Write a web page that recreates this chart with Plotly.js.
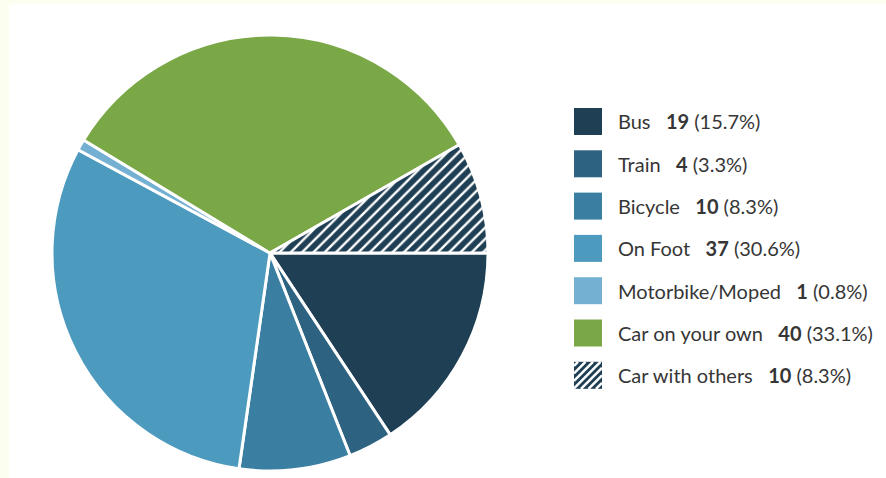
<!DOCTYPE html>
<html>
<head>
<meta charset="utf-8">
<script src="https://cdn.plot.ly/plotly-3.0.1.min.js"></script>
<style>
  html, body { margin: 0; padding: 0; background: #fcfff0; }
  #bg { position: absolute; left: 9px; top: 4px; width: 877px; height: 474px; background: #ffffff; }
  #chart { position: absolute; left: 0; top: 0; width: 886px; height: 478px; }
</style>
</head>
<body>
<div id="bg"></div>
<div id="chart"></div>
<script>
const categories = ["Bus", "Train", "Bicycle", "On Foot", "Motorbike/Moped", "Car on your own", "Car with others"];
const counts = [19, 4, 10, 37, 1, 40, 10];
const percents = ["15.7%", "3.3%", "8.3%", "30.6%", "0.8%", "33.1%", "8.3%"];
const colors = ["#1f3f55", "#2d6280", "#3a7fa1", "#4d9abf", "#74b0d2", "#7aa847", "#1f3f55"];
const patterns = ["", "", "", "", "", "", "/"];

const W = 886, H = 478;
const px = x => x / W;
const py = y => 1 - y / H;

const trace = {
  type: "pie",
  labels: categories,
  values: counts,
  sort: false,
  direction: "clockwise",
  rotation: 90,
  textinfo: "none",
  hoverinfo: "none",
  showlegend: false,
  marker: {
    colors: colors,
    line: { color: "#ffffff", width: 3 },
    pattern: { shape: patterns, bgcolor: colors, fgcolor: "#ffffff", fillmode: "replace", size: 8, solidity: 0.3 }
  },
  domain: { x: [px(52), px(488)], y: [py(471), py(35)] }
};

const shapes = [];
const annotations = [];
const sqX0 = 574, sqX1 = 602, sqH = 27;
const row0 = 121.5, rowStep = 42.3;
categories.forEach((c, i) => {
  const yc = row0 + i * rowStep;
  const y0 = yc - sqH / 2, y1 = yc + sqH / 2;
  shapes.push({
    type: "rect", xref: "paper", yref: "paper",
    x0: px(sqX0), x1: px(sqX1), y0: py(y1), y1: py(y0),
    fillcolor: colors[i], line: { width: 0 }
  });
  if (patterns[i] === "/") {
    const s = 7.5;
    for (let cc = sqX0 + y0 + 4; cc < sqX1 + y1; cc += s) {
      const xa = Math.max(sqX0, cc - y1), xb = Math.min(sqX1, cc - y0);
      if (xb - xa < 1) continue;
      shapes.push({
        type: "line", xref: "paper", yref: "paper",
        x0: px(xa), y0: py(cc - xa), x1: px(xb), y1: py(cc - xb),
        line: { color: "#ffffff", width: 2.4 }
      });
    }
  }
  annotations.push({
    xref: "paper", yref: "paper", x: px(616), y: py(yc),
    xanchor: "left", yanchor: "middle", showarrow: false,
    text: c + "\u00a0\u00a0 <b>" + counts[i] + "</b> (" + percents[i] + ")",
    font: { family: "Lato, 'Open Sans', sans-serif", size: 20, color: "#363636" }
  });
});

const layout = {
  width: W, height: H,
  margin: { l: 0, r: 0, t: 0, b: 0 },
  paper_bgcolor: "rgba(0,0,0,0)",
  plot_bgcolor: "rgba(0,0,0,0)",
  showlegend: false,
  shapes: shapes,
  annotations: annotations
};

Plotly.newPlot("chart", [trace], layout, { displayModeBar: false, staticPlot: true });
</script>
</body>
</html>
